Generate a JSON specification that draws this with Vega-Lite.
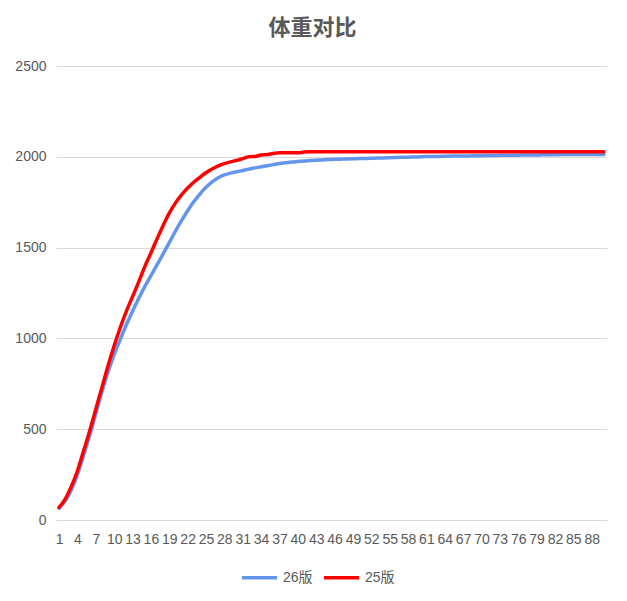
{
  "$schema": "https://vega.github.io/schema/vega-lite/v6.json",
  "autosize": {"type": "none"},
  "width": 551,
  "height": 454,
  "padding": {"left": 56, "top": 66, "right": 20, "bottom": 81},
  "background": "white",
  "title": {"text": "体重对比", "fontSize": 22, "fontWeight": "bold", "color": "#595959", "font": "Noto Sans CJK SC", "anchor": "middle", "dx": -19, "offset": 19},
  "data": {"values": [
    {"x":1,"26版":65,"25版":70},{"x":2,"26版":105,"25版":115},{"x":3,"26版":165,"25版":185},{"x":4,"26版":250,"25版":270},{"x":5,"26版":355,"25版":380},
    {"x":6,"26版":465,"25版":490},{"x":7,"26版":585,"25版":610},{"x":8,"26版":705,"25版":730},{"x":9,"26版":815,"25版":850},{"x":10,"26版":910,"25版":960},
    {"x":11,"26版":995,"25版":1060},{"x":12,"26版":1075,"25版":1150},{"x":13,"26版":1150,"25版":1230},{"x":14,"26版":1220,"25版":1310},{"x":15,"26版":1285,"25版":1395},
    {"x":16,"26版":1345,"25版":1470},{"x":17,"26版":1405,"25版":1548},{"x":18,"26版":1465,"25版":1622},{"x":19,"26版":1527,"25版":1690},{"x":20,"26版":1590,"25版":1745},
    {"x":21,"26版":1648,"25版":1790},{"x":22,"26版":1703,"25版":1828},{"x":23,"26版":1752,"25版":1860},{"x":24,"26版":1795,"25版":1887},{"x":25,"26版":1832,"25版":1912},
    {"x":26,"26版":1862,"25版":1933},{"x":27,"26版":1885,"25版":1950},{"x":28,"26版":1900,"25版":1962},{"x":29,"26版":1910,"25版":1972},{"x":30,"26版":1918,"25版":1980},
    {"x":31,"26版":1925,"25版":1990},{"x":32,"26版":1932,"25版":2000},{"x":33,"26版":1939,"25版":2002},{"x":34,"26版":1945,"25版":2010},{"x":35,"26版":1951,"25版":2012},
    {"x":36,"26版":1957,"25版":2018},{"x":37,"26版":1963,"25版":2022},{"x":38,"26版":1967,"25版":2022},{"x":39,"26版":1971,"25版":2022},{"x":40,"26版":1974,"25版":2022},
    {"x":41,"26版":1977,"25版":2026},{"x":42,"26版":1979,"25版":2028},{"x":43,"26版":1981,"25版":2028},{"x":44,"26版":1983,"25版":2028},{"x":45,"26版":1985,"25版":2028},
    {"x":46,"26版":1986,"25版":2028},{"x":47,"26版":1987,"25版":2028},{"x":48,"26版":1988,"25版":2028},{"x":49,"26版":1989,"25版":2028},{"x":50,"26版":1990,"25版":2028},
    {"x":51,"26版":1991,"25版":2028},{"x":52,"26版":1992,"25版":2028},{"x":53,"26版":1993,"25版":2028},{"x":54,"26版":1994,"25版":2028},{"x":55,"26版":1995,"25版":2028},
    {"x":56,"26版":1996,"25版":2028},{"x":57,"26版":1997,"25版":2028},{"x":58,"26版":1998,"25版":2028},{"x":59,"26版":1999,"25版":2028},{"x":60,"26版":2000,"25版":2028},
    {"x":61,"26版":2001,"25版":2028},{"x":62,"26版":2002,"25版":2028},{"x":63,"26版":2002,"25版":2028},{"x":64,"26版":2003,"25版":2028},{"x":65,"26版":2004,"25版":2028},
    {"x":66,"26版":2004,"25版":2028},{"x":67,"26版":2005,"25版":2028},{"x":68,"26版":2005,"25版":2028},{"x":69,"26版":2006,"25版":2028},{"x":70,"26版":2006,"25版":2028},
    {"x":71,"26版":2007,"25版":2028},{"x":72,"26版":2007,"25版":2028},{"x":73,"26版":2008,"25版":2028},{"x":74,"26版":2008,"25版":2028},{"x":75,"26版":2009,"25版":2028},
    {"x":76,"26版":2009,"25版":2028},{"x":77,"26版":2010,"25版":2028},{"x":78,"26版":2010,"25版":2028},{"x":79,"26版":2010,"25版":2028},{"x":80,"26版":2011,"25版":2028},
    {"x":81,"26版":2011,"25版":2028},{"x":82,"26版":2011,"25版":2028},{"x":83,"26版":2012,"25版":2028},{"x":84,"26版":2012,"25版":2028},{"x":85,"26版":2012,"25版":2028},
    {"x":86,"26版":2012,"25版":2028},{"x":87,"26版":2013,"25版":2028},{"x":88,"26版":2013,"25版":2028},{"x":89,"26版":2013,"25版":2028},{"x":90,"26版":2013,"25版":2028}
  ]},
  "transform": [{"fold": ["26版", "25版"], "as": ["series", "value"]}],
  "mark": {"type": "line", "strokeWidth": 3.5, "interpolate": "monotone", "strokeCap": "round"},
  "encoding": {
    "x": {"field": "x", "type": "ordinal", "sort": "ascending",
      "scale": {"type": "point", "padding": 0.5},
      "axis": {"title": null, "labelAngle": 0, "values": [1,4,7,10,13,16,19,22,25,28,31,34,37,40,43,46,49,52,55,58,61,64,67,70,73,76,79,82,85,88],
        "ticks": false, "grid": false, "domainColor": "#d9d9d9", "domainWidth": 1, "labelOverlap": false,
        "labelFont": "Liberation Sans", "labelFontSize": 14, "labelColor": "#595959", "labelPadding": 12}},
    "y": {"field": "value", "type": "quantitative",
      "scale": {"domain": [0, 2500], "nice": false},
      "axis": {"title": null, "values": [0,500,1000,1500,2000,2500], "format": "d", "ticks": false, "domain": false,
        "gridColor": "#d9d9d9", "gridWidth": 1, "labelFont": "Liberation Sans", "labelFontSize": 14, "labelColor": "#595959", "labelPadding": 10}},
    "color": {"field": "series", "type": "nominal",
      "scale": {"domain": ["26版", "25版"], "range": ["#6495ED", "#FF0000"]},
      "legend": {"title": null, "orient": "none", "legendX": 184, "legendY": 492, "direction": "horizontal",
        "symbolType": "stroke", "symbolSize": 1225, "symbolStrokeWidth": 3.5, "columnPadding": 4, "labelOffset": 4,
        "labelFont": "Liberation Sans, Noto Sans CJK SC", "labelFontSize": 14, "labelColor": "#595959"}}
  },
  "config": {"view": {"stroke": null}}
}
